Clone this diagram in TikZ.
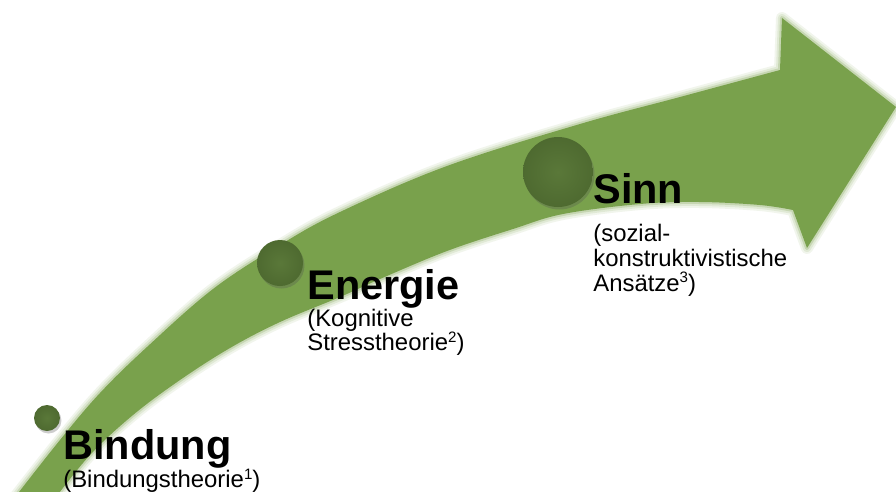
\documentclass[tikz,border=0pt]{standalone}
\usepackage{fontspec}
\setmainfont{Liberation Sans}
\usetikzlibrary{shadows}
\definecolor{arrowgreen}{RGB}{121,161,76}
\definecolor{dotgreen}{RGB}{78,106,48}
\definecolor{dotlight}{RGB}{90,120,57}
\newcommand{\supnum}[1]{\raisebox{0.34em}{\fontsize{8.6}{9}\selectfont #1}}
\tikzset{
  dot/.style={circle, inner sep=0pt, draw=none, shade, inner color=dotlight, outer color=dotgreen,
    drop shadow={shadow xshift=0.03cm, shadow yshift=-0.05cm, opacity=0.28, fill=black!70}},
  titletext/.style={anchor=base west, inner sep=0pt, font=\fontsize{23.6}{27}\selectfont\bfseries},
  subtext/.style={anchor=base west, inner sep=0pt, font=\fontsize{13.6}{16}\selectfont},
}
\begin{document}
\begin{tikzpicture}[x=0.02cm,y=-0.02cm]
\useasboundingbox (0,0) rectangle (896,491);
\fill[white] (0,0) rectangle (896,491);
\clip (0,0) rectangle (896,491);
% the curved arrow
\path[save path=\arrowp]
  plot[smooth,tension=0.6] coordinates {(12,501) (60,440) (100,393) (147,347) (213,289) (280,245) (340,212) (447,166) (580,124) (680,97) (780,70)}
  -- (782,18) -- (896,107) -- (807,248) -- (793,210)
  -- plot[smooth,tension=0.6] coordinates {(793,210) (760,205) (700,202) (640,204) (563,214) (513,229) (447,251) (380,279) (340,297) (280,322) (230,348) (180,380) (133,415) (90,455) (53,501)}
  -- cycle;
\foreach \w/\o in {12/0.1,8/0.14,4/0.25}
  \draw[arrowgreen, line width=\w*0.02cm, opacity=\o, line join=round, use path=\arrowp];
\fill[arrowgreen, use path=\arrowp];
% milestones
\node[dot, minimum size=0.52cm] (b) at (47,418) {};
\node[dot, minimum size=0.92cm] (e) at (280,263) {};
\node[dot, minimum size=1.40cm] (s) at (558,172) {};
% labels
\node[titletext] (bt) at (63,459) {Bindung};
\node[subtext] (bs) at (63,487.5) {(Bindungstheorie\supnum{1})};
\node[titletext] (et) at (307,299) {Energie};
\node[subtext] (es1) at (307,326.5) {(Kognitive};
\node[subtext] (es2) at (307,350.5) {Stresstheorie\supnum{2})};
\node[titletext] (st) at (593,203) {Sinn};
\node[subtext] (ss1) at (593,241) {(sozial-};
\node[subtext] (ss2) at (593,266) {konstruktivistische};
\node[subtext] (ss3) at (593,291) {Ansätze\supnum{3})};
\end{tikzpicture}
\end{document}
